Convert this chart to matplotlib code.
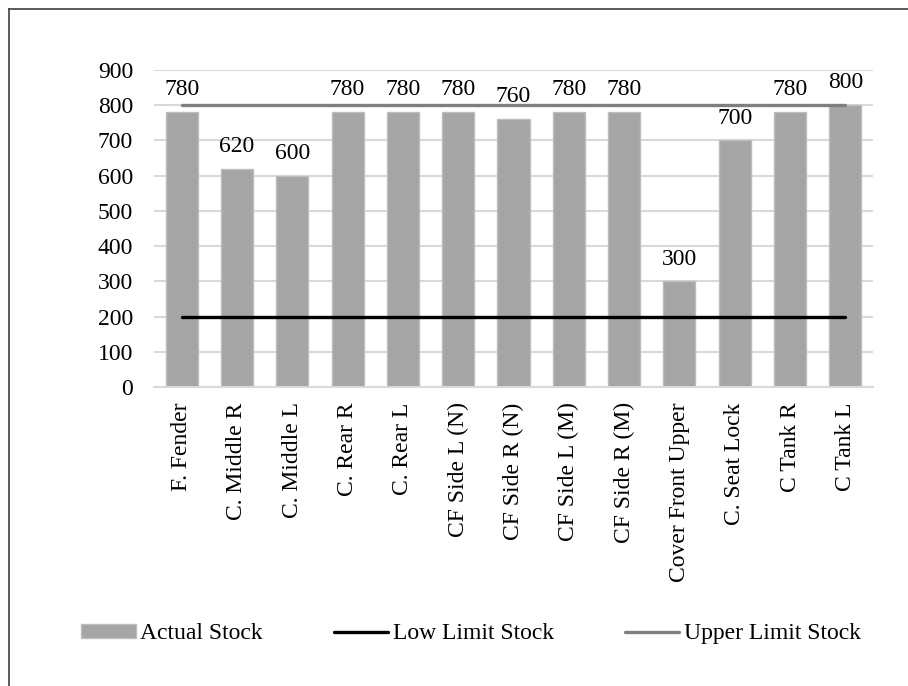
import matplotlib
matplotlib.use('Agg')
import matplotlib.pyplot as plt
from matplotlib.lines import Line2D
import numpy as np

# data
parts = ['F. Fender', 'C. Middle R', 'C. Middle L', 'C. Rear R', 'C. Rear L',
         'CF Side L (N)', 'CF Side R (N)', 'CF Side L (M)', 'CF Side R (M)',
         'Cover Front Upper', 'C. Seat Lock', 'C Tank R', 'C Tank L']
actual_stock = [780, 620, 600, 780, 780, 780, 760, 780, 780, 300, 700, 780, 800]
low_limit = [200] * len(parts)
upper_limit = [800] * len(parts)
y_ticks = [0, 100, 200, 300, 400, 500, 600, 700, 800, 900]

plt.rcParams['font.family'] = ['Liberation Serif', 'DejaVu Serif']
fsize = 17

fig = plt.figure(figsize=(9.08, 6.86), dpi=100)
ax = fig.add_axes([0.1696, 0.4359, 0.7919, 0.4621])

x = np.arange(len(parts))
bars = ax.bar(x, actual_stock, width=0.58, color='#a5a5a5',
              edgecolor='#bdbdbd', linewidth=1, label='Actual Stock', zorder=2)
low_line, = ax.plot(x, low_limit, color='black', linewidth=2.4,
                    solid_capstyle='round', label='Low Limit Stock', zorder=3)
up_line, = ax.plot(x, upper_limit, color='#7f7f7f', linewidth=2.4,
                   solid_capstyle='round', label='Upper Limit Stock', zorder=3)
ax.bar_label(bars, labels=[str(v) for v in actual_stock], padding=8.5,
             fontsize=fsize)

'''axes styling'''
ax.set_xlim(-0.5, len(parts) - 0.5)
ax.set_ylim(0, 900)
ax.set_yticks(y_ticks)
ax.set_xticks(x)
ax.set_xticklabels(parts, rotation=90, fontsize=fsize)
ax.tick_params(axis='y', labelsize=fsize, length=0, pad=15)
ax.tick_params(axis='x', length=0, pad=11)
ax.grid(axis='y', color='#d9d9d9', linewidth=1.5, zorder=0)
ax.set_axisbelow(True)
for side in ['top', 'right', 'left']:
    ax.spines[side].set_visible(False)
ax.spines['bottom'].set_color('#d9d9d9')
ax.spines['bottom'].set_linewidth(1.5)

'''legend'''
fig.legend(handles=[bars, low_line, up_line],
           labels=['Actual Stock', 'Low Limit Stock', 'Upper Limit Stock'],
           loc='center', bbox_to_anchor=(0.5187, 0.076), ncol=3,
           frameon=False, fontsize=fsize, handlelength=2.3,
           handleheight=0.55, handletextpad=0.2, columnspacing=3.0)

'''border on the left and top (cropped frame)'''
fx = 8.5 / 908
fy = 1 - 8.5 / 686
fig.add_artist(Line2D([fx, fx], [0, fy], transform=fig.transFigure,
                      color='#404040', linewidth=1.2))
fig.add_artist(Line2D([fx, 1], [fy, fy], transform=fig.transFigure,
                      color='#404040', linewidth=1.2))

fig.savefig('out.png', dpi=100)
